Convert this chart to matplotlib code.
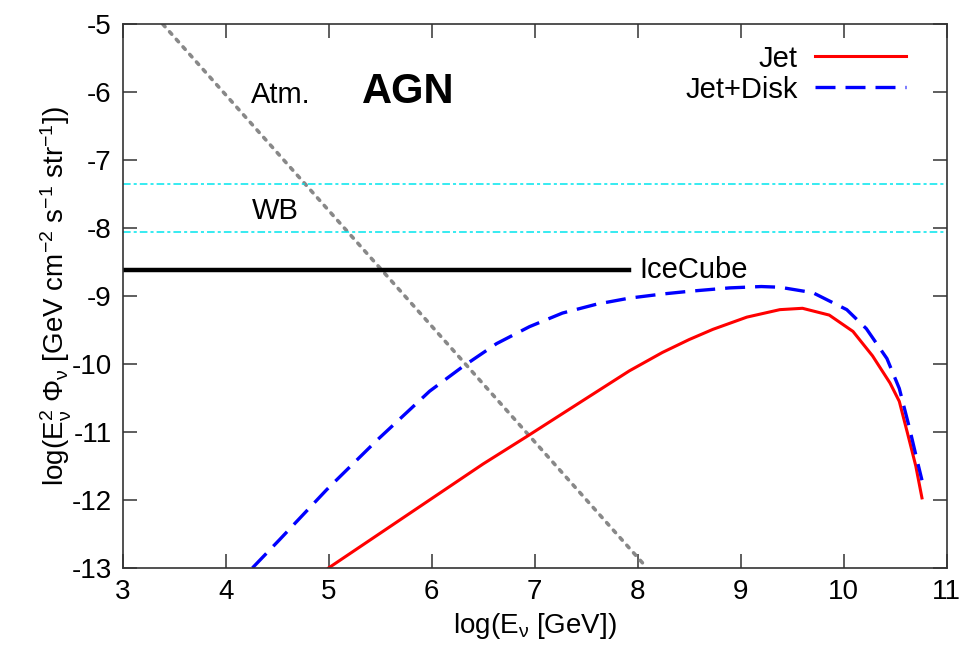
import matplotlib
matplotlib.use("Agg")
import matplotlib.pyplot as plt

plt.rcParams['font.family'] = ['Liberation Sans', 'DejaVu Sans']
plt.rcParams['mathtext.fontset'] = 'custom'
plt.rcParams['mathtext.rm'] = 'Liberation Sans'
plt.rcParams['mathtext.it'] = 'Liberation Sans'
plt.rcParams['mathtext.bf'] = 'Liberation Sans:bold'

# Jet only (red, solid)
jet_x = [5.0, 5.5, 6.0, 6.5, 6.92, 7.27, 7.6, 7.92, 8.24, 8.5, 8.73, 9.06, 9.38,
         9.6, 9.86, 10.09, 10.28, 10.45, 10.54, 10.62, 10.7, 10.76]
jet_y = [-13.0, -12.49, -11.98, -11.47, -11.07, -10.73, -10.41, -10.10, -9.83,
         -9.64, -9.49, -9.31, -9.20, -9.18, -9.28, -9.52, -9.88, -10.28, -10.55,
         -11.02, -11.5, -11.97]

# Jet + Disk (blue, dashed)
disk_x = [4.26, 4.52, 4.98, 5.47, 5.98, 6.30, 6.63, 6.95, 7.27, 7.60, 7.92, 8.24,
          8.50, 8.89, 9.2, 9.38, 9.70, 10.03, 10.22, 10.42, 10.54, 10.64, 10.71, 10.76]
disk_y = [-13.0, -12.59, -11.85, -11.12, -10.40, -10.04, -9.70, -9.45, -9.25,
          -9.12, -9.03, -8.97, -8.93, -8.88, -8.86, -8.87, -8.95, -9.20, -9.48,
          -9.92, -10.36, -10.95, -11.4, -11.71]

# atmospheric background
atm_x = [3.39, 8.09]
atm_y = [-5.0, -13.0]

# Waxman-Bahcall band and IceCube limit
wb_levels = [-7.35, -8.06]
icecube_x = [3.0, 7.92]
icecube_y = [-8.62, -8.62]

fig = plt.figure(figsize=(9.66, 6.55), dpi=100)
ax = fig.add_axes([0.127, 0.133, 0.853, 0.830])

ax.plot(atm_x, atm_y, color='#888888', lw=2.6, linestyle=(0, (0.9, 1.9)),
        dash_capstyle='round')
for lv in wb_levels:
    ax.axhline(lv, color='#00e5ee', lw=1.1, dashes=(5, 2, 2, 2))
ax.plot(icecube_x, icecube_y, color='black', lw=3.2)
ax.plot(jet_x, jet_y, color='red', lw=2.2, label='Jet')
ax.plot(disk_x, disk_y, color='blue', lw=2.4, dashes=(6, 3), label='Jet+Disk')

ax.text(4.25, -6.04, 'Atm.', fontsize=21, va='center', ha='left')
ax.text(5.32, -6.0, 'AGN', fontsize=30, fontweight='bold', va='center', ha='left')
ax.text(4.25, -7.75, 'WB', fontsize=21, va='center', ha='left')
ax.text(8.02, -8.62, 'IceCube', fontsize=21, va='center', ha='left')

ax.set_xlim(3, 11)
ax.set_ylim(-13, -5)
ax.set_xticks(range(3, 12))
ax.set_yticks(range(-13, -4))
ax.set_yticklabels([str(v) for v in range(-13, -4)])
ax.tick_params(direction='in', length=10, width=1.1, top=True, right=True,
               labelsize=20, color='#333333', pad=8)
for s in ax.spines.values():
    s.set_color('#333333')
    s.set_linewidth(1.2)

ax.set_xlabel(r'log(E$_\nu$ [GeV])', fontsize=20, labelpad=4)
ax.set_ylabel(r'log(E$_\nu^{2}$ $\Phi_\nu$ [GeV cm$^{-2}$ s$^{-1}$ str$^{-1}$])',
              fontsize=20, labelpad=-2)

ax.legend(loc='upper right', bbox_to_anchor=(0.975, 1.0), frameon=False,
          markerfirst=False, fontsize=21, handlelength=3.1, labelspacing=0.1,
          handletextpad=0.6, borderaxespad=0.3)

fig.savefig('out.png', dpi=100)
